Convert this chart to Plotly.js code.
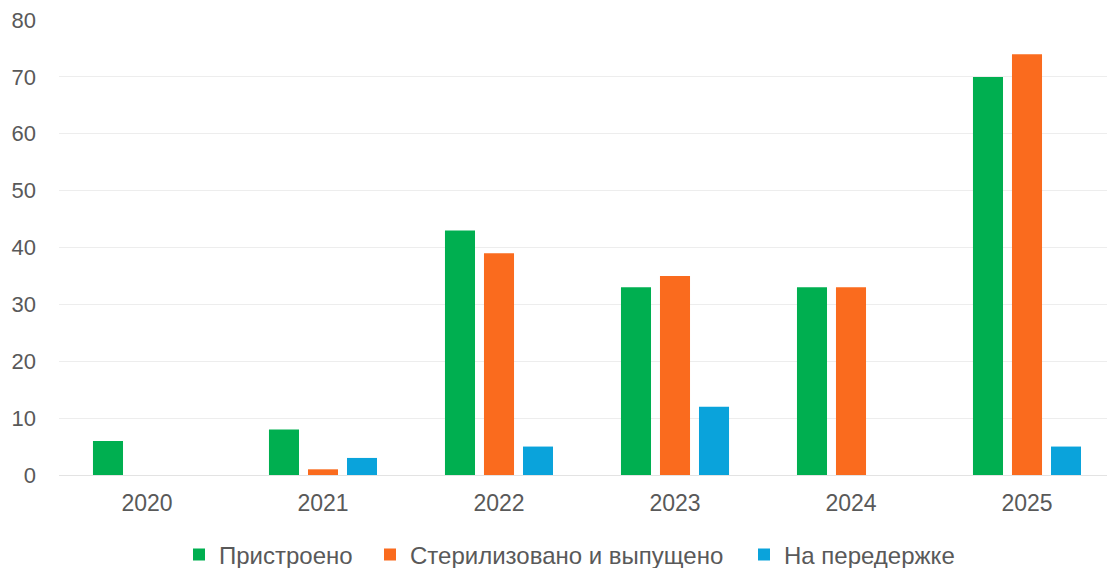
<!DOCTYPE html>
<html>
<head>
<meta charset="utf-8">
<script src="https://cdn.plot.ly/plotly-3.0.1.min.js"></script>
<style>
html,body{margin:0;padding:0;overflow:hidden;background:#fff;}
#chart{width:1115px;height:568px;}
</style>
</head>
<body>
<div id="chart"></div>
<script>
const years = ['2020', '2021', '2022', '2023', '2024', '2025'];
const seriesNames = ['Пристроено', 'Стерилизовано и выпущено', 'На передержке'];
const placed = [6, 8, 43, 33, 33, 70];
const sterilized = [0, 1, 39, 35, 33, 74];
const fostered = [0, 3, 5, 12, 0, 5];
const colors = ['#00AF50', '#FA6B1E', '#0AA3DB'];
const yTicks = [0, 10, 20, 30, 40, 50, 60, 70, 80];

const legendIds = ['legend', 'legend2', 'legend3'];
const legendX = [179, 370, 744];

const values = [placed, sterilized, fostered];
const traces = values.map((v, i) => ({
  type: 'bar',
  name: seriesNames[i],
  x: years,
  y: v,
  legend: legendIds[i],
  marker: {color: colors[i], line: {width: 0}},
  hoverinfo: 'x+y+name'
}));

const fam = 'Liberation Sans, Arial, sans-serif';
const grey = '#595959';
const legendFont = {family: fam, size: 24, color: grey};

const layout = {
  width: 1115,
  height: 568,
  margin: {l: 59, r: 0, t: 20, b: 93},
  paper_bgcolor: '#fff',
  plot_bgcolor: '#fff',
  font: {family: fam, size: 22, color: grey},
  barmode: 'group',
  bargap: 0.335,
  bargroupgap: 0.23,
  showlegend: true,
  xaxis: {
    type: 'category',
    tickfont: {family: fam, size: 23, color: grey},
    showgrid: false,
    zeroline: false,
    showline: false,
    ticks: '',
    ticklabelstandoff: 12
  },
  yaxis: {
    range: [0, 80],
    tickvals: yTicks,
    tickfont: {family: fam, size: 22, color: grey},
    showgrid: true,
    gridcolor: '#EDEDED',
    gridwidth: 1,
    zeroline: true,
    zerolinecolor: '#E3E3E3',
    zerolinewidth: 1,
    showline: false,
    ticks: '',
    ticklabelstandoff: 22
  }
};
legendIds.forEach((id, i) => {
  layout[id] = {
    orientation: 'h',
    xref: 'container', yref: 'container',
    x: legendX[i] / 1115, xanchor: 'left',
    y: 13 / 568, yanchor: 'middle',
    font: legendFont,
    itemwidth: 30,
    bgcolor: 'rgba(0,0,0,0)'
  };
});

Plotly.newPlot('chart', traces, layout, {displayModeBar: false, staticPlot: true});
</script>
</body>
</html>
